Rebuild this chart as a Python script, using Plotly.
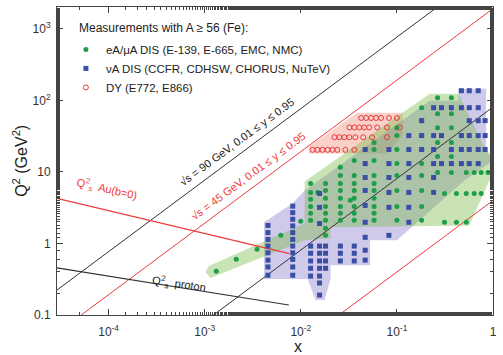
import plotly.graph_objects as go

# ---------------- kinematic limits  Q^2 = x * y * s ----------------
sqrt_s_90 = 90.0
sqrt_s_45 = 45.0
y_low, y_high = 0.01, 0.95
lower_red_coef = 4.0          # Q^2 = 4 x  (lower red boundary)
x_line = [1e-5, 1.0]

# ---------------- saturation scales ----------------
qs_au_x = [2.9e-5, 7.6e-3]
qs_au_q2 = [4.27, 0.72]
qs_p_x = [2.9e-5, 7.5e-3]
qs_p_q2 = [0.456, 0.138]

# ---------------- shaded coverage regions ----------------
dy_reg_x = [0.01208, 0.01208, 0.03864, 0.1153, 0.1153, 0.0770]
dy_reg_q2 = [18.1, 22.6, 67.5, 67.5, 32.3, 18.1]

nu_reg_x = [0.00414, 0.00824, 0.01096, 0.2193, 0.4365, 0.4365, 0.847, 0.847, 1.0,
            0.504, 0.1, 0.0526, 0.0526, 0.0204, 0.0204, 0.01766, 0.01426, 0.01178, 0.00414]
nu_reg_q2 = [1.98, 3.64, 5.52, 99.3, 99.3, 145.9, 145.9, 20.0, 14.45,
             7.62, 1.11, 1.11, 0.498, 0.498, 0.318, 0.162, 0.162, 0.318, 0.318]

dis_reg_x = [0.00102, 0.00109, 0.01096, 0.01096, 0.2193, 0.4365, 0.847, 1.0, 1.0,
             0.566, 0.0204, 0.0204, 0.01096, 0.001148]
dis_reg_q2 = [0.397, 0.482, 1.91, 7.38, 124.2, 124.2, 20.0, 17.0, 9.84,
              1.79, 1.685, 1.18, 1.11, 0.328]

# ---------------- Drell-Yan (E772, E866) ----------------
dy_x = [0.0425, 0.0478, 0.0539, 0.0607, 0.0684, 0.0827, 0.100,
        0.0320, 0.0360, 0.0406, 0.0456, 0.0514, 0.0623, 0.0789, 0.107,
        0.0224, 0.0252, 0.0284, 0.0320, 0.0369, 0.0446, 0.0552, 0.0789,
        0.01328, 0.0149, 0.0168, 0.0190, 0.0213, 0.0240, 0.0291, 0.0360]
dy_q2 = [56.9] * 7 + [42.0] * 8 + [30.6] * 8 + [20.4] * 8

# ---------------- neutrino DIS, listed column by column ----------------
nu_cols = [0.00455, 0.00824, 0.01265, 0.01567, 0.0181, 0.0258, 0.036, 0.04677,
           0.0826, 0.133, 0.181, 0.241, 0.291, 0.369, 0.469, 0.566, 0.7015, 0.828]
nu_q2_cols = [
    [0.36, 0.47, 0.585, 0.74, 0.92, 1.14, 1.42, 1.79],
    [0.36, 0.47, 0.60, 0.74, 0.92, 1.14, 1.42, 1.76, 2.18, 2.7, 3.33],
    [0.35, 0.45, 0.57, 0.73, 0.92],
    [0.19, 0.28, 0.35, 0.45, 0.57, 0.73, 0.92, 1.9, 3.2, 5.0],
    [0.45, 0.57, 0.73, 0.92],
    [0.57, 0.73, 0.92],
    [0.57, 0.73, 0.92],
    [20.6, 13.1, 8.38, 5.52, 3.41, 1.98, 1.22, 0.805, 0.585],
    [20.6, 13.1, 8.38, 5.18, 3.20, 1.30],
    [32.3, 20.6, 13.1, 8.38, 5.18, 3.20, 1.98],
    [52.2, 32.3, 20.6],
    [79.3, 32.3, 20.6, 13.1, 8.38, 5.18],
    [79.3, 32.3, 13.1],
    [79.3, 20.6, 13.1],
    [136.8, 79.3, 32.3, 20.6, 13.1],
    [136.8, 79.3, 52.2, 32.3, 20.6, 13.1],
    [136.8, 79.3, 52.2, 32.3, 20.6, 13.1],
    [52.2, 32.3, 20.6],
]

# ---------------- charged-lepton DIS ----------------
dis_band_x = [0.00132, 0.00213, 0.00351, 0.0062, 0.00998]
dis_band_q2 = [0.41, 0.60, 0.83, 1.30, 2.04]
dis_cols = [0.01265, 0.0150, 0.01807, 0.02582, 0.03273, 0.03597, 0.0579, 0.1,
            0.181, 0.265, 0.313, 0.369, 0.416, 0.527, 0.638, 0.753, 0.889]
dis_q2_cols = [
    [6.92, 5.18, 4.14, 3.30, 2.64, 2.11],
    [5.18],
    [6.92, 5.52, 4.28, 3.30, 2.64, 2.11, 1.63, 1.30],
    [11.6, 8.93, 6.92, 5.52, 4.28, 3.30, 2.64, 2.11],
    [4.01],
    [14.5, 8.93, 6.92, 5.52, 4.28, 3.30, 2.64, 2.11],
    [25.8, 20.6, 14.5, 8.93, 6.92, 5.52, 4.28, 3.30, 2.64, 2.11],
    [41.7, 32.3, 20.6, 13.1, 8.93, 5.52, 3.30, 2.11],
    [79.3, 52.2, 32.3, 20.6, 13.1, 8.93, 5.52, 3.30, 2.11],
    [109.1, 65.3, 41.7, 25.8, 16.4, 9.84],
    [5.0, 1.98],
    [109.1, 65.3, 41.7, 25.8, 16.4, 9.84],
    [5.0, 1.98],
    [9.84, 5.0, 1.98],
    [9.84, 5.0],
    [9.84, 5.0],
    [9.84],
]


def flatten(cols, q2_cols):
    xs, qs = [], []
    for xv, ql in zip(cols, q2_cols):
        xs += [xv] * len(ql)
        qs += ql
    return xs, qs


nu_x, nu_q2 = flatten(nu_cols, nu_q2_cols)
dis_x, dis_q2 = flatten(dis_cols, dis_q2_cols)
dis_x = dis_band_x + dis_x
dis_q2 = dis_band_q2 + dis_q2

x_tickvals = [1e-4, 1e-3, 1e-2, 1e-1, 1]
x_ticktext = ["10<sup>-4</sup>", "10<sup>-3</sup>", "10<sup>-2</sup>", "10<sup>-1</sup>", "1"]
y_tickvals = [0.1, 1, 10, 100, 1000]
y_ticktext = ["0.1", "1", "10", "10<sup>2</sup>", "10<sup>3</sup>"]

GREEN = "#1e9e4a"
BLUE = "#3a4ea6"
RED = "#e8393f"
LINE_RED = "#ee3a3a"
LINE_BLK = "#333333"
FONT = "Liberation Sans, Arial, sans-serif"

fig = go.Figure()

# coverage regions
fig.add_trace(go.Scatter(x=dy_reg_x, y=dy_reg_q2, fill="toself", mode="lines",
                         line=dict(width=0), fillcolor="rgba(240,140,120,0.40)",
                         hoverinfo="skip", showlegend=False))
fig.add_trace(go.Scatter(x=nu_reg_x, y=nu_reg_q2, fill="toself", mode="lines",
                         line=dict(width=0), fillcolor="rgba(130,115,200,0.38)",
                         hoverinfo="skip", showlegend=False))
fig.add_trace(go.Scatter(x=dis_reg_x, y=dis_reg_q2, fill="toself", mode="lines",
                         line=dict(width=0), fillcolor="rgba(120,185,70,0.40)",
                         hoverinfo="skip", showlegend=False))

# kinematic lines
for coef, col in [(y_high * sqrt_s_90 ** 2, LINE_BLK), (y_low * sqrt_s_90 ** 2, LINE_BLK),
                  (y_high * sqrt_s_45 ** 2, LINE_RED), (lower_red_coef, LINE_RED)]:
    fig.add_trace(go.Scatter(x=x_line, y=[coef * v for v in x_line], mode="lines",
                             line=dict(color=col, width=1), hoverinfo="skip",
                             showlegend=False))

# saturation lines
fig.add_trace(go.Scatter(x=qs_au_x, y=qs_au_q2, mode="lines",
                         line=dict(color=LINE_RED, width=1.2), showlegend=False))
fig.add_trace(go.Scatter(x=qs_p_x, y=qs_p_q2, mode="lines",
                         line=dict(color=LINE_BLK, width=1.2), showlegend=False))

# data
fig.add_trace(go.Scatter(x=dis_x, y=dis_q2, mode="markers",
                         name="eA/\u03bcA DIS (E-139, E-665, EMC, NMC)",
                         marker=dict(symbol="circle", size=5, color=GREEN)))
fig.add_trace(go.Scatter(x=nu_x, y=nu_q2, mode="markers",
                         name="\u03bdA DIS (CCFR, CDHSW, CHORUS, NuTeV)",
                         marker=dict(symbol="square", size=5, color=BLUE)))
fig.add_trace(go.Scatter(x=dy_x, y=dy_q2, mode="markers",
                         name="DY (E772, E866)",
                         marker=dict(symbol="circle-open", size=5, color=RED,
                                     line=dict(width=1, color=RED))))

L, R, T, B = 57, 6, 6, 40
W, H = 503, 355
pw, ph = W - L - R, H - T - B


def px(xp):
    return (xp - L) / pw


def py(yp):
    return (H - B - yp) / ph


annos = [
    dict(x=px(77), y=py(27), text="Measurements with A \u2265 56 (Fe):", xanchor="left",
         font=dict(size=12, color="#222")),
    dict(x=px(238), y=py(141), text="\u221As = 90 GeV, 0.01 \u2264 y \u2264 0.95",
         textangle=-36.5, font=dict(size=11, color="#222")),
    dict(x=px(250), y=py(176), text="\u221As = 45 GeV, 0.01 \u2264 y \u2264 0.95",
         textangle=-36.5, font=dict(size=11, color=LINE_RED)),
    dict(x=px(107), y=py(189), text="Q<sup>2</sup><sub>s</sub>  Au(b=0)",
         textangle=13, font=dict(size=11, color=LINE_RED)),
    dict(x=px(180), y=py(284), text="Q<sup>2</sup><sub>s</sub>  proton",
         textangle=8, font=dict(size=11, color="#222")),
    dict(x=px(300), y=py(347), text="x", font=dict(size=16, color="#222")),
    dict(x=px(19), y=py(160), text="Q<sup>2</sup> (GeV<sup>2</sup>)", textangle=-90,
         font=dict(size=16, color="#222")),
]
for a in annos:
    a.setdefault("xanchor", "center")
    a.update(xref="paper", yref="paper", showarrow=False, yanchor="middle")

axis_common = dict(type="log", showgrid=False, zeroline=False, showline=True,
                   linecolor="#444", linewidth=1, mirror="allticks", ticks="inside",
                   ticklen=6, tickcolor="#444", tickfont=dict(size=12, color="#333"),
                   minor=dict(ticks="inside", ticklen=3, tickcolor="#444", showgrid=False))

fig.update_layout(
    width=W, height=H, margin=dict(l=L, r=R, t=T, b=B),
    plot_bgcolor="white", paper_bgcolor="white",
    font=dict(family=FONT),
    xaxis=dict(range=[-4.537, 0], tickvals=x_tickvals, ticktext=x_ticktext,
               ticklabelstandoff=6, **axis_common),
    yaxis=dict(range=[-1, 3.307], tickvals=y_tickvals, ticktext=y_ticktext,
               ticklabelstandoff=3, **axis_common),
    legend=dict(x=px(66), y=py(34), xanchor="left", yanchor="top",
                bgcolor="rgba(0,0,0,0)", font=dict(size=11.5, color="#222"),
                itemwidth=30, tracegroupgap=0),
    annotations=annos,
    showlegend=True,
)

fig.write_html("out.html")
